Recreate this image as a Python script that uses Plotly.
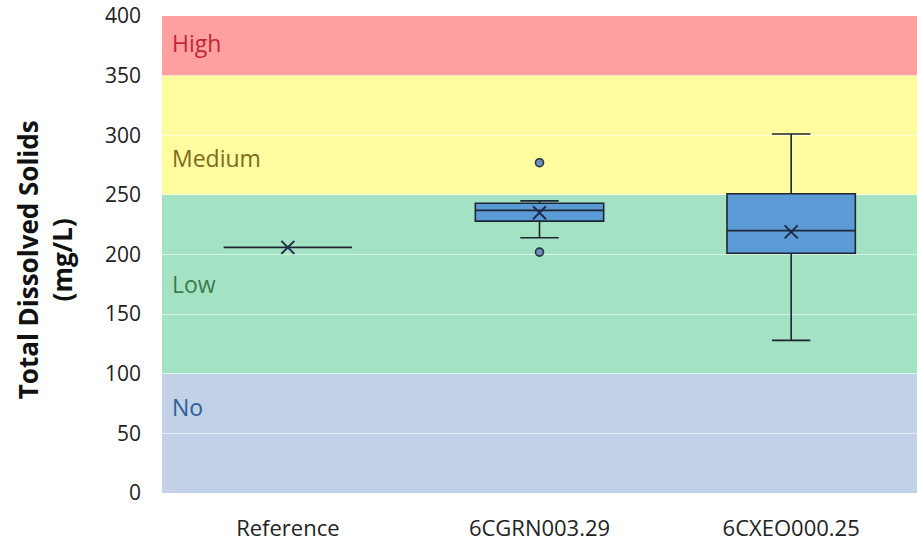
import plotly.graph_objects as go

# Sites and summary statistics of total dissolved solids (mg/L)
sites = ["Reference", "6CGRN003.29", "6CXEO000.25"]
q1 = [206, 228, 201]
median = [206, 237, 220]
q3 = [206, 243, 251]
lower_whisker = [206, 214, 128]
upper_whisker = [206, 245, 301]
means = [206, 235, 219]

# Individual outlier readings
outlier_sites = ["6CGRN003.29", "6CGRN003.29"]
outlier_values = [277, 202]

# Classification bands
band_names = ["No", "Low", "Medium", "High"]
band_lower = [0, 100, 250, 350]
band_upper = [100, 250, 350, 400]
band_fill = ["#C2D1E6", "#A4E2C4", "#FFFB9F", "#FFA0A0"]
band_text_color = ["#2F5F9C", "#3B7C4F", "#7D6A1C", "#C02738"]
band_label_y = [72, 175, 281, 377]

FONT = "Open Sans, sans-serif"

fig = go.Figure()

fig.add_trace(go.Box(
    x=sites,
    q1=q1, median=median, q3=q3,
    lowerfence=lower_whisker, upperfence=upper_whisker,
    fillcolor="#5B9BD5",
    line=dict(color="#1E2633", width=1.6),
    width=0.51,
    whiskerwidth=0.3,
    boxpoints=False,
    showlegend=False,
    hoverinfo="skip",
))

fig.add_trace(go.Scatter(
    x=sites, y=means, mode="markers",
    marker=dict(symbol="x-thin", size=13, line=dict(color="#1F2B4A", width=2)),
    showlegend=False,
))

fig.add_trace(go.Scatter(
    x=outlier_sites, y=outlier_values, mode="markers",
    marker=dict(symbol="circle", size=8, color="#6E8FB8",
                line=dict(color="#2A3340", width=1.6)),
    showlegend=False,
))

for lo, hi, fill in zip(band_lower, band_upper, band_fill):
    fig.add_shape(type="rect", xref="paper", yref="y", x0=0, x1=1, y0=lo, y1=hi,
                  fillcolor=fill, line=dict(width=0), layer="below")

for name, y, col in zip(band_names, band_label_y, band_text_color):
    fig.add_annotation(xref="paper", yref="y", x=0.01, y=y, text=name,
                       showarrow=False, xanchor="left", yanchor="middle",
                       font=dict(family=FONT, size=23, color=col))

fig.add_annotation(xref="paper", yref="paper", x=-0.155, y=0.49,
                   text="<b>Total Dissolved Solids<br>(mg/L)</b>",
                   textangle=-90, showarrow=False, xanchor="center", yanchor="middle",
                   font=dict(family=FONT, size=26, color="#111111"))

fig.update_layout(
    width=917, height=550,
    margin=dict(l=162, r=0, t=16, b=57, autoexpand=False),
    paper_bgcolor="white", plot_bgcolor="white",
    xaxis=dict(range=[-0.5, 2.5], showgrid=False, showline=False, zeroline=False,
               ticks="", ticklabelstandoff=20, automargin=False,
               tickfont=dict(family=FONT, size=22, color="#222222")),
    yaxis=dict(range=[0, 400], dtick=50, showgrid=True,
               gridcolor="rgba(255,255,255,0.55)", gridwidth=1,
               zeroline=False, showline=False, ticks="", ticklabelstandoff=20,
               ticklabeloverflow="allow", automargin=False,
               tickfont=dict(family=FONT, size=21, color="#222222")),
)

fig.write_html("out.html")
